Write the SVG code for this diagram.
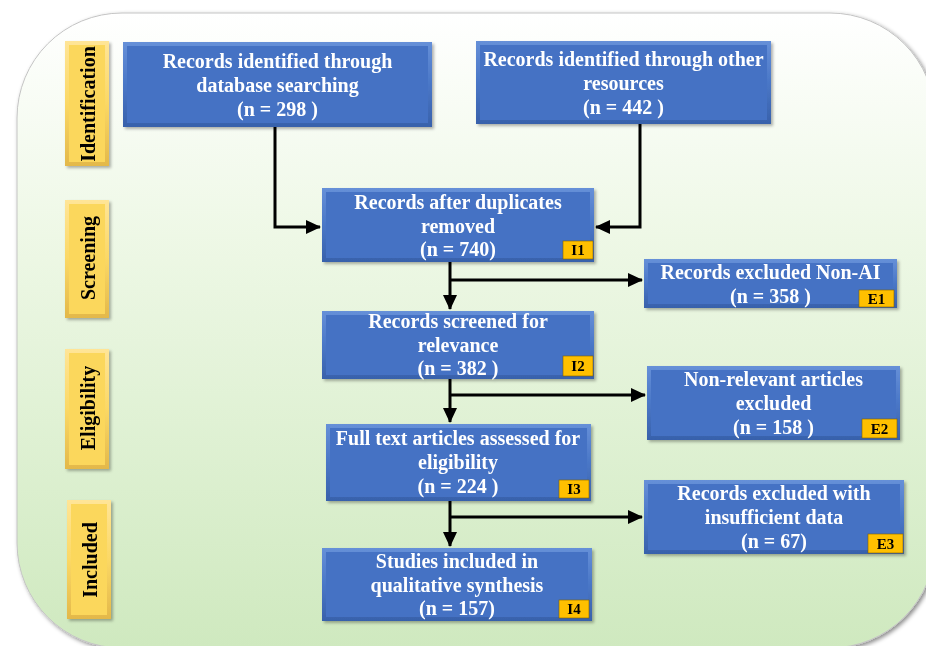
<svg xmlns="http://www.w3.org/2000/svg" width="926" height="646" viewBox="0 0 926 646">
<defs>
<linearGradient id="bg" x1="0" y1="0" x2="0" y2="1">
<stop offset="0" stop-color="#ffffff"/>
<stop offset="0.35" stop-color="#eef8e6"/>
<stop offset="1" stop-color="#cfe9bf"/>
</linearGradient>
<linearGradient id="blueEdge" x1="0" y1="0" x2="0" y2="1">
<stop offset="0" stop-color="#6690d8"/>
<stop offset="0.5" stop-color="#4a77c7"/>
<stop offset="1" stop-color="#3861ab"/>
</linearGradient>
<linearGradient id="yelEdge" x1="0" y1="0" x2="0" y2="1">
<stop offset="0" stop-color="#ffe597"/>
<stop offset="0.5" stop-color="#fbd865"/>
<stop offset="1" stop-color="#e3b84a"/>
</linearGradient>
<filter id="sh" x="-10%" y="-10%" width="125%" height="130%">
<feDropShadow dx="2" dy="2" stdDeviation="1.5" flood-color="#000" flood-opacity="0.3"/>
</filter>
<filter id="bgsh" x="-5%" y="-5%" width="110%" height="110%">
<feDropShadow dx="2" dy="2" stdDeviation="2" flood-color="#000" flood-opacity="0.45"/>
</filter>
<marker id="arr" markerUnits="userSpaceOnUse" markerWidth="16" markerHeight="16" refX="14" refY="8" orient="auto">
<path d="M0,1 L15,8 L0,15 Z" fill="#000"/>
</marker>
<style>
.bo{fill:url(#blueEdge)}
.bi{fill:#4472c4}
.yo{fill:url(#yelEdge)}
.yi{fill:#fbd75b}
.t{font-family:"Liberation Serif","Times New Roman",serif;font-weight:bold;font-size:20px;fill:#fff;text-anchor:middle}
.st{font-family:"Liberation Serif","Times New Roman",serif;font-weight:bold;font-size:20px;fill:#000;text-anchor:middle}
.bd{fill:#ffc000;stroke:#7f6000;stroke-width:0.6}
.bt{font-family:"Liberation Serif","Times New Roman",serif;font-weight:bold;font-size:15px;fill:#000;text-anchor:middle}
.c{fill:none;stroke:#000;stroke-width:3}
</style>
</defs>
<rect x="17" y="13" width="918" height="635" rx="105" ry="105" fill="url(#bg)" stroke="#c4c4c4" stroke-width="1" filter="url(#bgsh)"/>

<g id="stage-identification" filter="url(#sh)">
<rect class="yo" x="65" y="41" width="44" height="125"/>
<rect class="yi" x="69" y="45" width="36" height="117"/>
<text class="st" transform="translate(95,104) rotate(-90)">Identification</text>
</g>
<g id="stage-screening" filter="url(#sh)">
<rect class="yo" x="65" y="200" width="44" height="118"/>
<rect class="yi" x="69" y="204" width="36" height="110"/>
<text class="st" transform="translate(95,258) rotate(-90)">Screening</text>
</g>
<g id="stage-eligibility" filter="url(#sh)">
<rect class="yo" x="65" y="349" width="44" height="120"/>
<rect class="yi" x="69" y="353" width="36" height="112"/>
<text class="st" transform="translate(95,408) rotate(-90)">Eligibility</text>
</g>
<g id="stage-included" filter="url(#sh)">
<rect class="yo" x="67" y="500" width="44" height="119"/>
<rect class="yi" x="71" y="504" width="36" height="111"/>
<text class="st" transform="translate(97,560) rotate(-90)">Included</text>
</g>

<g id="connectors">
<path class="c" d="M275,127 V227 H320" marker-end="url(#arr)"/>
<path class="c" d="M640,124 V227 H596" marker-end="url(#arr)"/>
<path class="c" d="M450,262 V309" marker-end="url(#arr)"/>
<path class="c" d="M450,280 H642" marker-end="url(#arr)"/>
<path class="c" d="M450,379 V422" marker-end="url(#arr)"/>
<path class="c" d="M450,395 H645" marker-end="url(#arr)"/>
<path class="c" d="M450,501 V546" marker-end="url(#arr)"/>
<path class="c" d="M450,517 H642" marker-end="url(#arr)"/>
</g>

<g id="db-search" filter="url(#sh)">
<rect class="bo" x="123" y="42" width="309" height="85"/>
<rect class="bi" x="127" y="46" width="301" height="77"/>
<text class="t" x="277.5" y="68">Records identified through</text>
<text class="t" x="277.5" y="92">database searching</text>
<text class="t" x="277.5" y="116">(n = 298 )</text>
</g>
<g id="other-resources" filter="url(#sh)">
<rect class="bo" x="476" y="41" width="295" height="83"/>
<rect class="bi" x="480" y="45" width="287" height="75"/>
<text class="t" x="623.5" y="66">Records identified through other</text>
<text class="t" x="623.5" y="90">resources</text>
<text class="t" x="623.5" y="114">(n = 442 )</text>
</g>
<g id="duplicates-removed" filter="url(#sh)">
<rect class="bo" x="322" y="188" width="272" height="74"/>
<rect class="bi" x="326" y="192" width="264" height="66"/>
<text class="t" x="458" y="209">Records after duplicates</text>
<text class="t" x="458" y="233">removed</text>
<text class="t" x="458" y="256">(n = 740)</text>
<rect class="bd" x="563" y="241" width="30" height="18"/>
<text class="bt" x="578" y="255">I1</text>
</g>
<g id="excluded-nonai" filter="url(#sh)">
<rect class="bo" x="644" y="259" width="253" height="49"/>
<rect class="bi" x="648" y="263" width="245" height="41"/>
<text class="t" x="770.5" y="279">Records excluded Non-AI</text>
<text class="t" x="770.5" y="303">(n = 358 )</text>
<rect class="bd" x="859" y="290" width="35" height="17"/>
<text class="bt" x="876.5" y="304">E1</text>
</g>
<g id="screened" filter="url(#sh)">
<rect class="bo" x="322" y="311" width="272" height="68"/>
<rect class="bi" x="326" y="315" width="264" height="60"/>
<text class="t" x="458" y="328">Records screened for</text>
<text class="t" x="458" y="352">relevance</text>
<text class="t" x="458" y="375">(n = 382 )</text>
<rect class="bd" x="563" y="356" width="30" height="20"/>
<text class="bt" x="578" y="371">I2</text>
</g>
<g id="excluded-nonrelevant" filter="url(#sh)">
<rect class="bo" x="647" y="366" width="253" height="74"/>
<rect class="bi" x="651" y="370" width="245" height="66"/>
<text class="t" x="773.5" y="386">Non-relevant articles</text>
<text class="t" x="773.5" y="410">excluded</text>
<text class="t" x="773.5" y="434">(n = 158 )</text>
<rect class="bd" x="862" y="419" width="35" height="19"/>
<text class="bt" x="879.5" y="434">E2</text>
</g>
<g id="full-text" filter="url(#sh)">
<rect class="bo" x="326" y="424" width="265" height="77"/>
<rect class="bi" x="330" y="428" width="257" height="69"/>
<text class="t" x="458" y="445">Full text articles assessed for</text>
<text class="t" x="458" y="469">eligibility</text>
<text class="t" x="458" y="493">(n = 224 )</text>
<rect class="bd" x="559" y="480" width="30" height="18"/>
<text class="bt" x="574" y="494">I3</text>
</g>
<g id="excluded-insufficient" filter="url(#sh)">
<rect class="bo" x="644" y="480" width="260" height="74"/>
<rect class="bi" x="648" y="484" width="252" height="66"/>
<text class="t" x="774" y="500">Records excluded with</text>
<text class="t" x="774" y="524">insufficient data</text>
<text class="t" x="774" y="548">(n = 67)</text>
<rect class="bd" x="868" y="534" width="35" height="19"/>
<text class="bt" x="885.5" y="549">E3</text>
</g>
<g id="included-studies" filter="url(#sh)">
<rect class="bo" x="322" y="548" width="270" height="73"/>
<rect class="bi" x="326" y="552" width="262" height="65"/>
<text class="t" x="457" y="568">Studies included in</text>
<text class="t" x="457" y="592">qualitative synthesis</text>
<text class="t" x="457" y="615">(n = 157)</text>
<rect class="bd" x="559" y="600" width="30" height="18"/>
<text class="bt" x="574" y="614">I4</text>
</g>
</svg>
